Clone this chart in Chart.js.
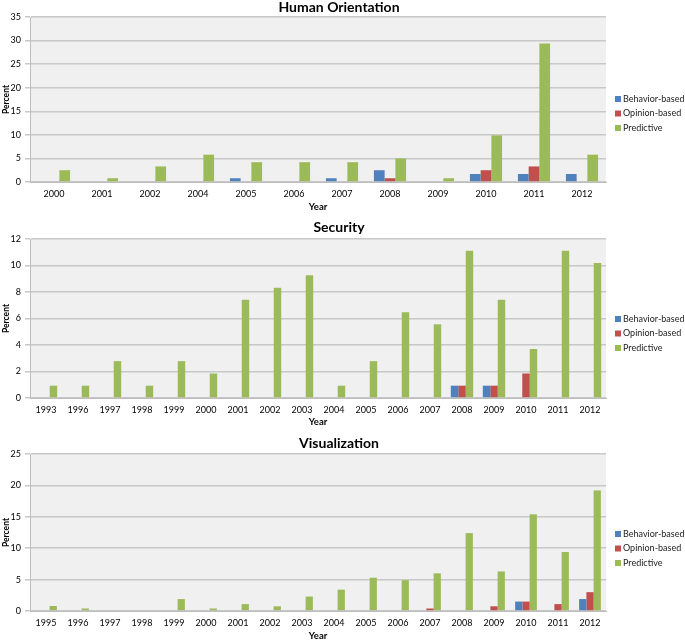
<!DOCTYPE html>
<html>
<head>
<meta charset="utf-8">
<script src="https://cdn.jsdelivr.net/npm/chart.js@4/dist/chart.umd.min.js"></script>
<style>
  html, body { margin: 0; padding: 0; background: #fff; }
  body { width: 685px; height: 642px; position: relative; overflow: hidden; }
  canvas { position: absolute; left: 0; }
</style>
</head>
<body>
<canvas id="humanChart" width="685" height="214" style="top:0px"></canvas>
<canvas id="securityChart" width="685" height="216" style="top:214px"></canvas>
<canvas id="visChart" width="685" height="212" style="top:430px"></canvas>
<script>
// series names
var seriesNames = ['Behavior-based', 'Opinion-based', 'Predictive'];
var seriesColors = ['#4f81bd', '#c0504d', '#9bbb59'];

// Human Orientation
var humanYears = ['2000', '2001', '2002', '2004', '2005', '2006', '2007', '2008', '2009', '2010', '2011', '2012'];
var humanBehavior = [0, 0, 0, 0, 0.8, 0, 0.8, 2.5, 0, 1.7, 1.7, 1.7];
var humanOpinion = [0, 0, 0, 0, 0, 0, 0, 0.8, 0, 2.5, 3.3, 0];
var humanPredictive = [2.5, 0.8, 3.3, 5.8, 4.2, 4.2, 4.2, 5.0, 0.8, 9.9, 29.4, 5.8];
var humanTicks = [0, 35, 5];

// Security
var securityYears = ['1993', '1996', '1997', '1998', '1999', '2000', '2001', '2002', '2003', '2004', '2005', '2006', '2007', '2008', '2009', '2010', '2011', '2012'];
var securityBehavior = [0, 0, 0, 0, 0, 0, 0, 0, 0, 0, 0, 0, 0, 0.93, 0.93, 0, 0, 0];
var securityOpinion = [0, 0, 0, 0, 0, 0, 0, 0, 0, 0, 0, 0, 0, 0.93, 0.93, 1.85, 0, 0];
var securityPredictive = [0.93, 0.93, 2.78, 0.93, 2.78, 1.85, 7.41, 8.33, 9.26, 0.93, 2.78, 6.48, 5.56, 11.11, 7.41, 3.7, 11.11, 10.19];
var securityTicks = [0, 12, 2];

// Visualization
var visYears = ['1995', '1996', '1997', '1998', '1999', '2000', '2001', '2002', '2003', '2004', '2005', '2006', '2007', '2008', '2009', '2010', '2011', '2012'];
var visBehavior = [0, 0, 0, 0, 0, 0, 0, 0, 0, 0, 0, 0, 0, 0, 0, 1.5, 0, 1.9];
var visOpinion = [0, 0, 0, 0, 0, 0, 0, 0, 0, 0, 0, 0, 0.4, 0, 0.75, 1.5, 1.1, 3.0];
var visPredictive = [0.8, 0.4, 0, 0, 1.9, 0.4, 1.1, 0.75, 2.3, 3.4, 5.3, 4.9, 6.0, 12.4, 6.3, 15.4, 9.4, 19.2];
var visTicks = [0, 25, 5];

var FONT = 'Lato, "Open Sans", sans-serif';

// grey plot background
const plotBackground = {
    id: 'plotBackground',
    beforeDraw(chart) {
        const a = chart.chartArea;
        const ctx = chart.ctx;
        ctx.save();
        ctx.fillStyle = '#f0f0f0';
        ctx.fillRect(a.left, a.top, a.right - a.left, a.bottom - a.top);
        ctx.restore();
    }
};

// legend on the right, drawn like the excel one
const sideLegend = {
    id: 'sideLegend',
    afterDraw(chart, args, opts) {
        const ctx = chart.ctx;
        ctx.save();
        ctx.font = '9px ' + FONT;
        ctx.textBaseline = 'middle';
        ctx.textAlign = 'left';
        chart.data.datasets.forEach(function (ds, i) {
            var y = opts.top + i * opts.step;
            ctx.fillStyle = ds.backgroundColor;
            ctx.fillRect(opts.x, y - 3, 6, 6);
            ctx.fillStyle = '#222';
            ctx.fillText(ds.label, opts.x + 8, y);
        });
        ctx.restore();
    }
};

function makeChart(id, title, years, b, o, p, ticks, lay) {
    var ctx = document.getElementById(id);
    return new Chart(ctx, {
        type: 'bar',
        data: {
            labels: years,
            datasets: [b, o, p].map(function (vals, i) {
                return {
                    label: seriesNames[i],
                    data: vals,
                    backgroundColor: seriesColors[i],
                    borderWidth: 0,
                    categoryPercentage: lay.cat,
                    barPercentage: 1.0
                };
            })
        },
        options: {
            responsive: false,
            animation: false,
            layout: { padding: { top: 0, right: 7, bottom: 0, left: 0 } },
            plugins: {
                legend: { display: false },
                tooltip: { enabled: false },
                title: {
                    display: true,
                    text: title,
                    color: '#000',
                    font: { family: FONT, size: 14, weight: 'bold', lineHeight: 1 },
                    padding: { top: lay.titleTop, bottom: lay.titleBottom }
                },
                sideLegend: { x: 615, top: lay.legendTop, step: 14.5 }
            },
            scales: {
                x: {
                    grid: { display: false, drawTicks: false },
                    border: { display: true, color: '#bdbdbd', width: 1 },
                    ticks: {
                        color: '#000',
                        font: { family: FONT, size: 9 },
                        autoSkip: false,
                        maxRotation: 0,
                        padding: 7
                    },
                    title: {
                        display: true,
                        text: 'Year',
                        color: '#000',
                        font: { family: FONT, size: 9.5, weight: 'bold' },
                        padding: { top: 0, bottom: lay.yearBottom }
                    },
                    afterFit: function (scale) { scale.height = lay.xHeight; }
                },
                y: {
                    min: ticks[0],
                    max: ticks[1],
                    grid: { color: '#c8c8c8', lineWidth: 1.5, tickLength: 5, drawTicks: true },
                    border: { display: true, color: '#bdbdbd', width: 1 },
                    ticks: {
                        stepSize: ticks[2],
                        color: '#000',
                        font: { family: FONT, size: 9 },
                        padding: 4
                    },
                    title: {
                        display: true,
                        text: 'Percent',
                        color: '#000',
                        font: { family: FONT, size: 8.5, weight: 'bold' },
                        padding: { top: 1, bottom: 0 }
                    },
                    afterFit: function (scale) { scale.width = 30; }
                },
                // empty box on the right that leaves room for the legend
                side: {
                    type: 'linear',
                    position: 'right',
                    grid: { display: false, drawTicks: false },
                    border: { display: false },
                    ticks: { display: false },
                    afterFit: function (scale) { scale.width = 72; }
                }
            }
        },
        plugins: [plotBackground, sideLegend]
    });
}

makeChart('humanChart', 'Human Orientation', humanYears, humanBehavior, humanOpinion, humanPredictive, humanTicks,
    { cat: 0.67, titleTop: 0, titleBottom: 3, xHeight: 32, yearBottom: 1, legendTop: 99 });
makeChart('securityChart', 'Security', securityYears, securityBehavior, securityOpinion, securityPredictive, securityTicks,
    { cat: 0.7, titleTop: 6, titleBottom: 5, xHeight: 32, yearBottom: 2, legendTop: 105 });
makeChart('visChart', 'Visualization', visYears, visBehavior, visOpinion, visPredictive, visTicks,
    { cat: 0.68, titleTop: 6, titleBottom: 4, xHeight: 31, yearBottom: 0, legendTop: 104 });
</script>
</body>
</html>
